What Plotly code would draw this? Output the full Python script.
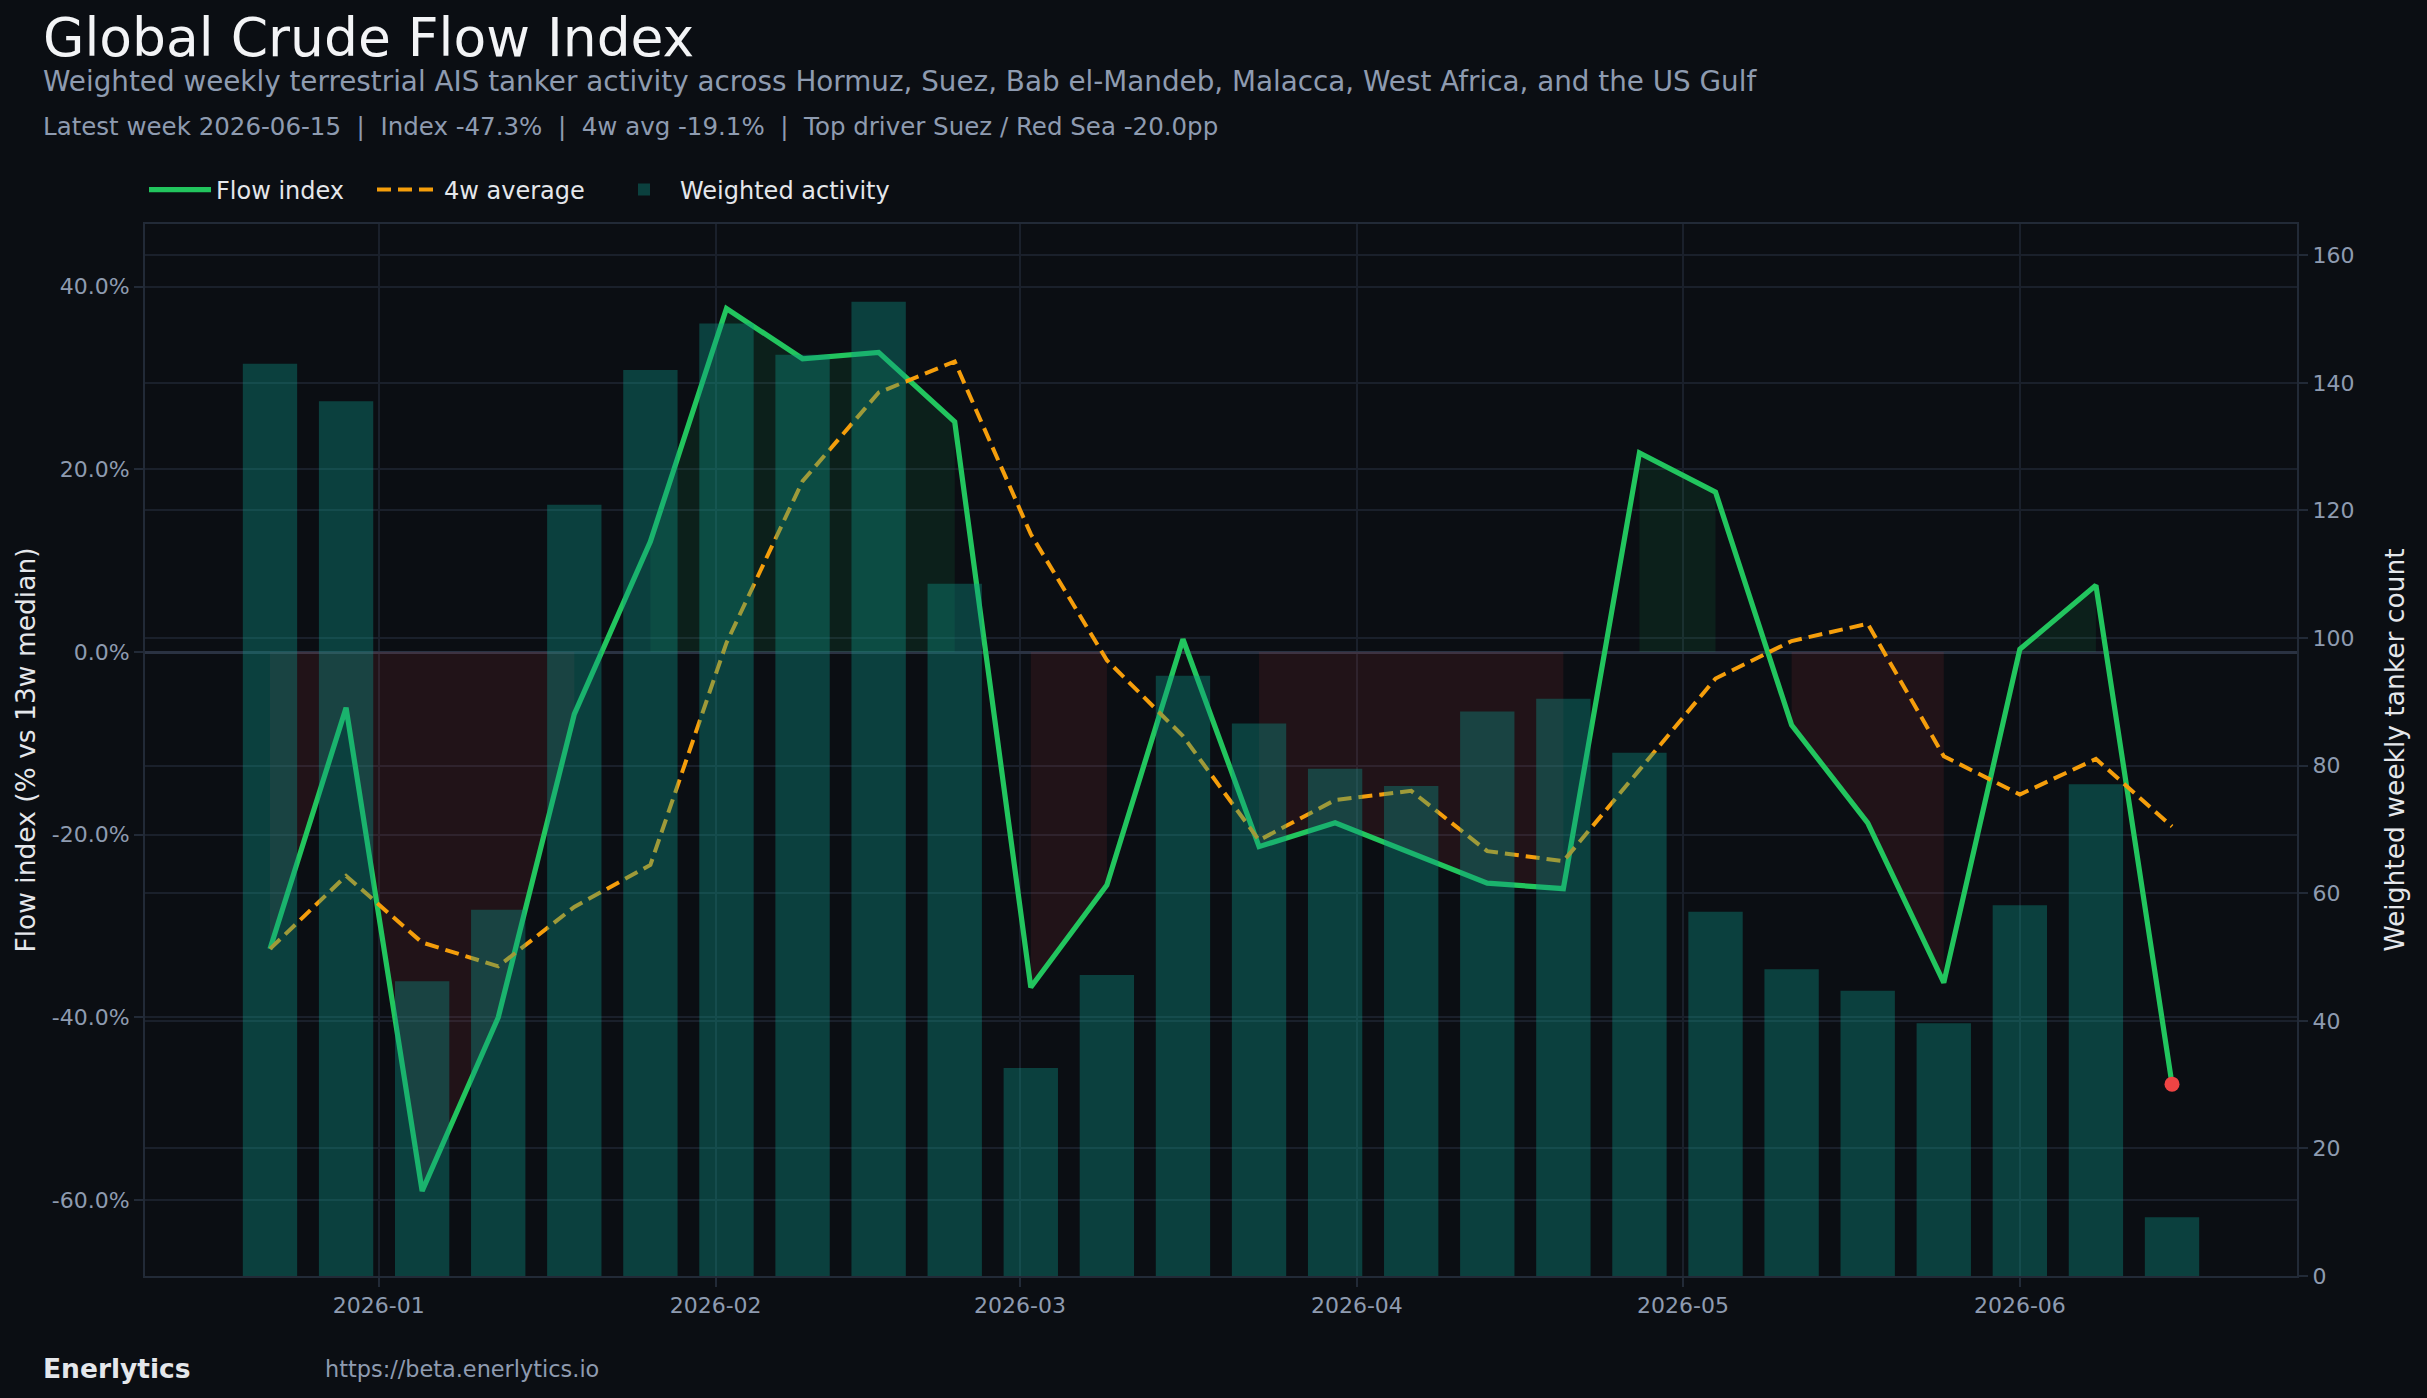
import plotly.graph_objects as go

# ---------------- data ----------------
weeks = ["2025-12-22", "2025-12-29", "2026-01-05", "2026-01-12", "2026-01-19",
         "2026-01-26", "2026-02-02", "2026-02-09", "2026-02-16", "2026-02-23",
         "2026-03-02", "2026-03-09", "2026-03-16", "2026-03-23", "2026-03-30",
         "2026-04-06", "2026-04-13", "2026-04-20", "2026-04-27", "2026-05-04",
         "2026-05-11", "2026-05-18", "2026-05-25", "2026-06-01", "2026-06-08",
         "2026-06-15"]
flow_index = [-32.5, -6.1, -59.0, -40.0, -6.8, 12.1, 37.6, 32.1, 32.8, 25.2,
              -36.7, -25.5, 1.4, -21.3, -18.7, -22.0, -25.3, -25.9, 21.8, 17.5,
              -8.0, -18.7, -36.2, 0.3, 7.3, -47.3]
avg_4w = [-32.5, -24.5, -31.8, -34.4, -27.9, -23.3, 1.0, 18.7, 28.4, 31.8,
          12.9, -0.9, -9.2, -20.6, -16.2, -15.2, -21.8, -22.9, -12.9, -2.9,
          1.2, 3.1, -11.4, -15.6, -11.7, -19.1]
activity = [143.0, 137.1, 46.2, 57.4, 120.9, 142.0, 149.3, 144.4, 152.7, 108.5,
            32.6, 47.2, 94.1, 86.6, 79.5, 76.8, 88.5, 90.5, 82.0, 57.1,
            48.1, 44.7, 39.6, 58.1, 77.1, 9.2]
left_ticks = [-60, -40, -20, 0, 20, 40]
right_ticks = [0, 20, 40, 60, 80, 100, 120, 140, 160]

title = "Global Crude Flow Index"
subtitle = ("Weighted weekly terrestrial AIS tanker activity across Hormuz, Suez, "
            "Bab el-Mandeb, Malacca, West Africa, and the US Gulf")
info = ("Latest week 2026-06-15  |  Index -47.3%  |  4w avg -19.1%  |  "
        "Top driver Suez / Red Sea -20.0pp")

# ---------------- styles ----------------
BG = "#0b0e13"
GRID = "#1a202b"
SPINE = "#222a37"
MUTED = "#8e9bb0"
LIGHT = "#e5e7eb"
GREEN = "#22c55e"
ORANGE = "#f59e0b"
RED = "#ef4444"
FONT = "DejaVu Sans"

fig = go.Figure()

# positive / negative fills between index and zero (runs of same sign, >=2 points)
runs = []
start = 0
for i in range(1, len(flow_index) + 1):
    if i == len(flow_index) or (flow_index[i] >= 0) != (flow_index[start] >= 0):
        runs.append((start, i))
        start = i
for a, b in runs:
    if b - a < 2:
        continue
    pos = flow_index[a] >= 0
    fig.add_trace(go.Scatter(
        x=weeks[a:b], y=flow_index[a:b], mode="lines",
        line=dict(width=0, color="rgba(0,0,0,0)"),
        fill="tozeroy",
        fillcolor="rgba(34,197,94,0.10)" if pos else "rgba(239,68,68,0.10)",
        showlegend=False, hoverinfo="skip", yaxis="y"))

fig.add_trace(go.Scatter(
    x=weeks, y=flow_index, mode="lines", name="Flow index", legend="legend",
    line=dict(color=GREEN, width=5.2), yaxis="y"))
fig.add_trace(go.Scatter(
    x=weeks, y=avg_4w, mode="lines", name="4w average", legend="legend2",
    line=dict(color=ORANGE, width=4.0, dash="14px,7px"), yaxis="y"))
fig.add_trace(go.Scatter(
    x=[weeks[-1]], y=[flow_index[-1]], mode="markers",
    marker=dict(color=RED, size=15), showlegend=False, yaxis="y"))
fig.add_trace(go.Bar(
    x=weeks, y=activity, name="Weighted activity", legend="legend3",
    width=[5 * 24 * 3600 * 1000] * len(weeks),
    marker=dict(color="rgba(13,148,136,0.375)", line=dict(width=0)),
    yaxis="y2"))


def py(yfull):
    return 1 + (224 - yfull) / 1052.0


def px(xfull):
    return (xfull - 145) / 2152.0


def leg(xfull):
    return dict(orientation="h", x=px(xfull), xanchor="left", y=py(190), yanchor="middle",
                font=dict(size=24, color=LIGHT, family=FONT), bgcolor="rgba(0,0,0,0)",
                itemwidth=62)


fig.update_layout(
    width=2427, height=1398, autosize=False,
    paper_bgcolor=BG, plot_bgcolor=BG,
    margin=dict(l=145, r=130, t=224, b=122),
    font=dict(family=FONT, color=MUTED, size=22),
    legend=leg(144), legend2=leg(372), legend3=leg(608),
    xaxis=dict(type="date", range=["2025-12-10 12:00", "2026-06-26 12:00"],
               tick0="2026-01-01", dtick="M1", tickformat="%Y-%m",
               showgrid=True, gridcolor=GRID, gridwidth=1.5,
               ticks="outside", ticklen=9, tickcolor=SPINE, tickwidth=1.5,
               tickfont=dict(size=22, color=MUTED),
               showline=True, mirror=True, linecolor=SPINE, linewidth=2,
               zeroline=False),
    yaxis=dict(range=[-68.3, 46.85], tickvals=left_ticks,
               ticktext=[f"{v:.1f}%" for v in left_ticks],
               showgrid=True, gridcolor=GRID, gridwidth=1.5,
               zeroline=True, zerolinecolor="#2a3242", zerolinewidth=2.5,
               ticks="outside", ticklen=9, tickcolor=SPINE, tickwidth=1.5,
               tickfont=dict(size=22, color=MUTED),
               showline=True, mirror=True, linecolor=SPINE, linewidth=2,
               title=dict(text="Flow index (% vs 13w median)",
                          font=dict(size=26.5, color=LIGHT), standoff=8)),
    yaxis2=dict(range=[0, 164.9], tickvals=right_ticks, overlaying="y", side="right",
                showgrid=True, gridcolor=GRID, gridwidth=1.5, zeroline=False,
                ticks="outside", ticklen=9, tickcolor=SPINE, tickwidth=1.5,
                tickfont=dict(size=22, color=MUTED),
                showline=True, linecolor=SPINE, linewidth=2,
                title=dict(text="Weighted weekly tanker count",
                           font=dict(size=26.5, color=LIGHT), standoff=32)),
)

annos = [
    dict(text=title, x=px(41), y=py(37), font=dict(size=53.5, color="#f3f4f6")),
    dict(text=subtitle, x=px(41), y=py(81), font=dict(size=27.8, color=MUTED)),
    dict(text=info, x=px(41), y=py(127), font=dict(size=24.5, color=MUTED)),
    dict(text="<b>Enerlytics</b>", x=px(41), y=py(1368), font=dict(size=26.5, color=LIGHT)),
    dict(text="https://beta.enerlytics.io", x=px(323), y=py(1369), font=dict(size=22.4, color=MUTED)),
]
for a in annos:
    fig.add_annotation(xref="paper", yref="paper", xanchor="left", yanchor="middle",
                       showarrow=False, font_family=FONT, **{k: v for k, v in a.items()})

fig.write_html("out.html")
